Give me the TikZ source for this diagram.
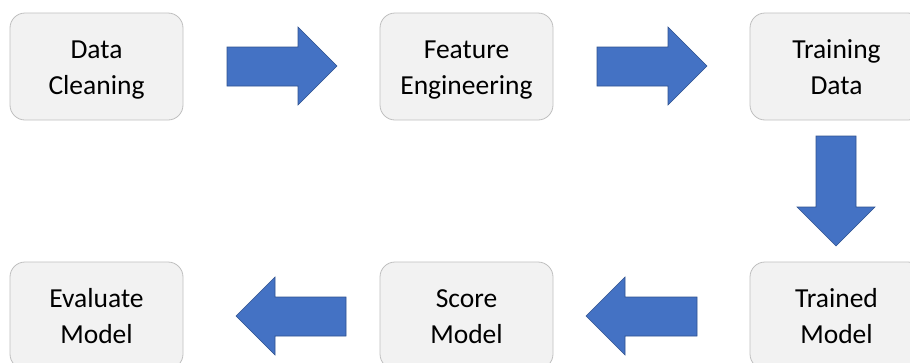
\documentclass[tikz,border=0pt]{standalone}
\usepackage{fontspec}
\setmainfont{Carlito}
\definecolor{boxfill}{HTML}{F2F2F2}
\definecolor{boxline}{HTML}{BFBFBF}
\definecolor{arrowfill}{HTML}{4472C4}
\definecolor{arrowline}{HTML}{2F528F}
% strut that fixes every text line to the same height and depth
\newcommand{\linestrut}{\rule[-8pt]{0pt}{35pt}}
\newcommand{\stagetext}[2]{\linestrut#1\\\linestrut#2}
\tikzset{
  stagebox/.style={draw=boxline, line width=0.8pt, fill=boxfill, rounded corners=15pt,
    minimum width=173pt, minimum height=107pt, align=center, inner sep=0pt, text=black,
    font=\fontsize{27.5}{34}\selectfont},
  blockarrow/.style={fill=arrowfill, draw=arrowline, line width=0.6pt, line join=miter}
}
\begin{document}
\begin{tikzpicture}[x=1pt, y=-1pt]
  \useasboundingbox (0,0) rectangle (910,362);
  % process stages
  \node[stagebox] (clean) at (96.5,66.5) {\stagetext{Data}{Cleaning}};
  \node[stagebox] (feat)  at (466.5,66.5) {\stagetext{Feature}{Engineering}};
  \node[stagebox] (train) at (836.5,66.5) {\stagetext{Training}{Data}};
  \node[stagebox] (model) at (836.5,315.5) {\stagetext{Trained}{Model}};
  \node[stagebox] (score) at (466.5,315.5) {\stagetext{Score}{Model}};
  \node[stagebox] (eval)  at (96.5,315.5) {\stagetext{Evaluate}{Model}};
  % block arrows between stages
  \draw[blockarrow] (227,47) -- (298,47) -- (298,27) -- (337,66) -- (298,105) -- (298,86) -- (227,86) -- cycle;
  \draw[blockarrow] (597,47) -- (668,47) -- (668,27) -- (707,66) -- (668,105) -- (668,86) -- (597,86) -- cycle;
  \draw[blockarrow] (816,136) -- (856,136) -- (856,207) -- (875,207) -- (836,246) -- (797,207) -- (816,207) -- cycle;
  \draw[blockarrow] (697,297) -- (625,297) -- (625,277) -- (586,316) -- (625,355) -- (625,336) -- (697,336) -- cycle;
  \draw[blockarrow] (346,297) -- (275,297) -- (275,277) -- (236,316) -- (275,355) -- (275,336) -- (346,336) -- cycle;
\end{tikzpicture}
\end{document}
